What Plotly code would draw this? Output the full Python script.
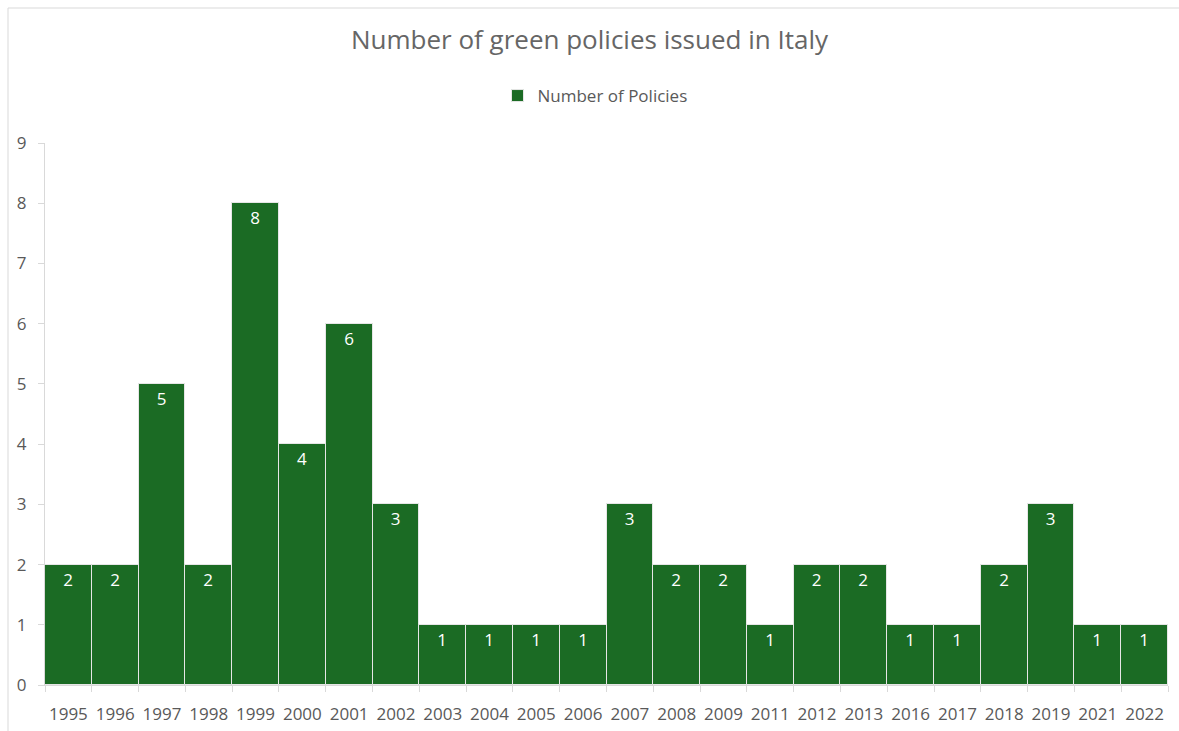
import plotly.graph_objects as go

years = ["1995", "1996", "1997", "1998", "1999", "2000", "2001", "2002", "2003", "2004",
         "2005", "2006", "2007", "2008", "2009", "2011", "2012", "2013", "2016", "2017",
         "2018", "2019", "2021", "2022"]
policies = [2, 2, 5, 2, 8, 4, 6, 3, 1, 1, 1, 1, 3, 2, 2, 1, 2, 2, 1, 1, 2, 3, 1, 1]

BAR = "#1b6b24"
AXIS = "#d9d9d9"
TEXT = "#595959"
FONT = "Open Sans"

fig = go.Figure(go.Bar(
    x=years, y=policies, name="Number of Policies",
    marker=dict(color=BAR, line=dict(color="#e6e6e6", width=1)),
    width=1.0,
    text=[str(v) for v in policies], textposition="inside", insidetextanchor="end",
    textfont=dict(color="white", size=17, family=FONT),
    constraintext="none", cliponaxis=False,
))

W, H = 1179, 731
L, R, T, B = 45, 11, 143, 46
pw, ph = W - L - R, H - T - B

def px_x(x):
    return (x - L) / pw

def px_y(y):
    return (H - B - y) / ph

fig.update_layout(
    width=W, height=H,
    margin=dict(l=L, r=R, t=T, b=B, autoexpand=False),
    paper_bgcolor="white", plot_bgcolor="white",
    font=dict(family=FONT, color=TEXT),
    title=dict(text="Number of green policies issued in Italy", x=0.5, xanchor="center",
               y=1 - 40 / H, yanchor="middle", yref="container",
               font=dict(size=26, color="#666666", family=FONT)),
    showlegend=True,
    legend=dict(orientation="h", x=px_x(595), xanchor="center", y=px_y(96), yanchor="middle",
                font=dict(size=17, color=TEXT, family=FONT), itemwidth=30),
    bargap=0,
    xaxis=dict(type="category", showline=True, linecolor=AXIS, linewidth=1,
               ticks="outside", tickson="boundaries", ticklen=6, tickcolor=AXIS,
               tickangle=0, automargin=False,
               tickfont=dict(size=17, color=TEXT), showgrid=False, ticklabelstandoff=14),
    yaxis=dict(range=[0, 9], dtick=1, showline=True, linecolor=AXIS, linewidth=1,
               ticks="outside", ticklen=6, tickcolor=AXIS, showgrid=False, zeroline=False,
               automargin=False,
               tickfont=dict(size=17, color=TEXT), ticklabelstandoff=8),
    shapes=[dict(type="rect", xref="paper", yref="paper",
                 x0=px_x(8), x1=px_x(1190), y0=px_y(745), y1=px_y(8),
                 line=dict(color=AXIS, width=1), fillcolor="rgba(0,0,0,0)", layer="below")],
)

fig.write_html("out.html")
